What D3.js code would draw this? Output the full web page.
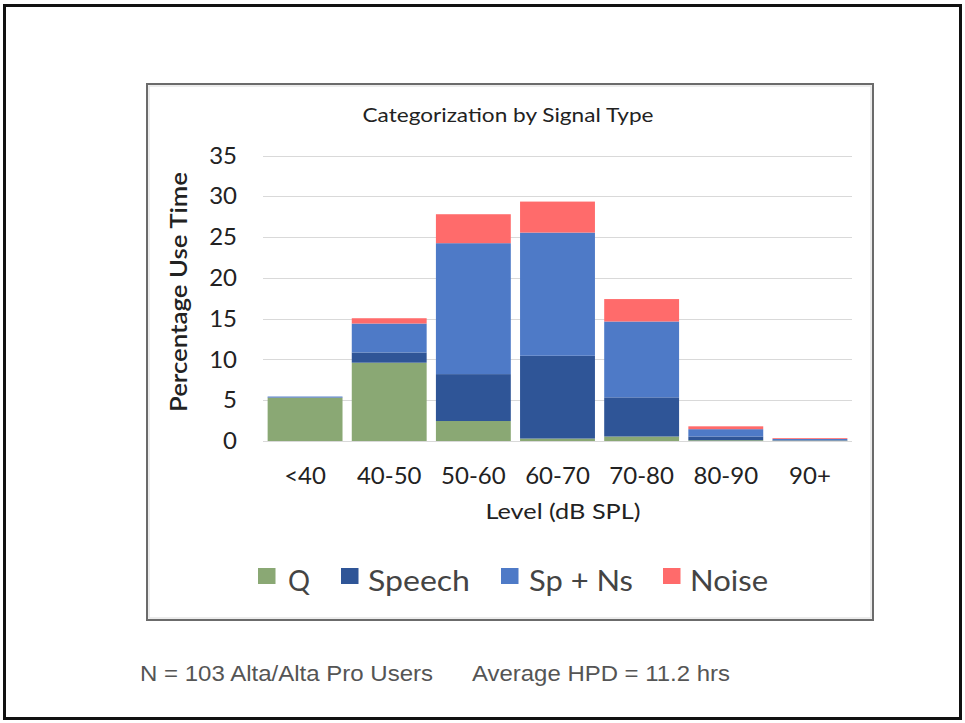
<!DOCTYPE html>
<html>
<head>
<meta charset="utf-8">
<script src="https://cdn.jsdelivr.net/npm/d3@7"></script>
<style>
  html, body { margin: 0; padding: 0; background: #fff; }
  svg { display: block; }
</style>
</head>
<body>
<svg id="chart" width="965" height="723"></svg>
<script>
const categories = ["<40", "40-50", "50-60", "60-70", "70-80", "80-90", "90+"];
const seriesNames = ["Q", "Speech", "Sp + Ns", "Noise"];
const qValues      = [5.3, 9.6, 2.45, 0.3, 0.55, 0.1, 0.05];
const speechValues = [0.05, 1.25, 5.75, 10.15, 4.8, 0.45, 0.05];
const spNsValues   = [0.1, 3.55, 16.05, 15.1, 9.3, 0.9, 0.15];
const noiseValues  = [0, 0.65, 3.55, 3.8, 2.75, 0.35, 0.1];
const yTicks = [0, 5, 10, 15, 20, 25, 30, 35];
const colors = ["#8aa874", "#2f5597", "#4e7ac7", "#ff6b6b"];

const seriesValues = [qValues, speechValues, spNsValues, noiseValues];
const rows = categories.map((c, i) => {
  const r = { cat: c };
  seriesNames.forEach((s, j) => r[s] = seriesValues[j][i]);
  return r;
});

const svg = d3.select("#chart");
const FONT = "Lato, 'Open Sans', 'Noto Sans', sans-serif";

// outer frame
svg.append("rect").attr("x", 4.5).attr("y", 5.5).attr("width", 956).attr("height", 713)
  .attr("fill", "#fff").attr("stroke", "#111").attr("stroke-width", 3);

// chart panel
svg.append("rect").attr("x", 147).attr("y", 84).attr("width", 726).attr("height", 536)
  .attr("fill", "#fff").attr("stroke", "#6b6b6b").attr("stroke-width", 2);
svg.append("rect").attr("x", 149).attr("y", 86).attr("width", 722).attr("height", 532)
  .attr("fill", "none").attr("stroke", "#e6e6e6").attr("stroke-width", 1.5);

const x = d3.scaleBand().domain(categories).range([263, 852])
  .paddingInner(0.11).paddingOuter(0.055);
const y = d3.scaleLinear().domain([0, 35]).range([441, 155.5]);

function txt(g, s, opts) {
  const t = g.append("text").text(s)
    .attr("x", opts.x).attr("y", opts.y)
    .attr("font-family", opts.family || FONT)
    .attr("font-size", opts.size)
    .attr("fill", opts.fill || "#333")
    .attr("text-anchor", opts.anchor || "start")
    .attr("dominant-baseline", "central");
  if (opts.weight) t.attr("font-weight", opts.weight);
  if (opts.len) t.attr("textLength", opts.len).attr("lengthAdjust", "spacingAndGlyphs");
  if (opts.transform) t.attr("transform", opts.transform);
  return t;
}

// gridlines
svg.append("g").selectAll("line").data(yTicks).join("line")
  .attr("x1", 263).attr("x2", 852)
  .attr("y1", d => Math.round(y(d)) + 0.5).attr("y2", d => Math.round(y(d)) + 0.5)
  .attr("stroke", "#d9d9d9").attr("stroke-width", 1);

// y axis labels
const yAxis = svg.append("g").attr("transform", "translate(240,0)")
  .call(d3.axisLeft(y).tickValues(yTicks).tickSize(0).tickPadding(3).tickFormat(d3.format("d")));
yAxis.select(".domain").remove();
yAxis.selectAll("text").attr("font-family", FONT).attr("font-size", 24).attr("fill", "#222");

// x axis labels
const xAxis = svg.append("g").attr("transform", "translate(0,464)")
  .call(d3.axisBottom(x).tickSize(0).tickPadding(3));
xAxis.select(".domain").remove();
xAxis.selectAll("text").attr("font-family", FONT).attr("font-size", 24).attr("fill", "#222");

// stacked bars
const stack = d3.stack().keys(seriesNames)(rows);
svg.append("g").selectAll("g").data(stack).join("g")
  .attr("fill", (d, i) => colors[i])
  .selectAll("rect").data(d => d).join("rect")
  .attr("x", d => x(d.data.cat))
  .attr("width", x.bandwidth())
  .attr("y", d => y(d[1]))
  .attr("height", d => Math.max(0, y(d[0]) - y(d[1])));

// titles
txt(svg, "Categorization by Signal Type", { x: 508, y: 114, size: 20, anchor: "middle", len: 291, fill: "#222" });
txt(svg, "Percentage Use Time", { x: 0, y: 0, size: 23, anchor: "middle", len: 240, weight: 600, fill: "#222",
  transform: "translate(178,292) rotate(-90)" });
txt(svg, "Level (dB SPL)", { x: 563, y: 510, size: 22, anchor: "middle", len: 155, fill: "#222" });

// legend
const legendItems = [
  { sx: 258, tx: 288, tw: 22 },
  { sx: 341, tx: 368, tw: 102 },
  { sx: 501, tx: 529, tw: 104 },
  { sx: 663, tx: 690, tw: 78 }
];
const lg = svg.append("g");
seriesNames.forEach((s, i) => {
  const it = legendItems[i];
  lg.append("rect").attr("x", it.sx).attr("y", 568).attr("width", 17.5).attr("height", 16).attr("fill", colors[i]);
  txt(lg, s, { x: it.tx, y: 579, size: 29, len: it.tw, fill: "#444" });
});

// footer
const FOOT = "'Liberation Sans Narrow', 'Liberation Sans', Arial, sans-serif";
txt(svg, "N = 103 Alta/Alta Pro Users", { x: 140, y: 673, size: 22, family: FOOT, len: 293, fill: "#555" });
txt(svg, "Average HPD = 11.2 hrs", { x: 472, y: 673, size: 22, family: FOOT, len: 258, fill: "#555" });
</script>
</body>
</html>
